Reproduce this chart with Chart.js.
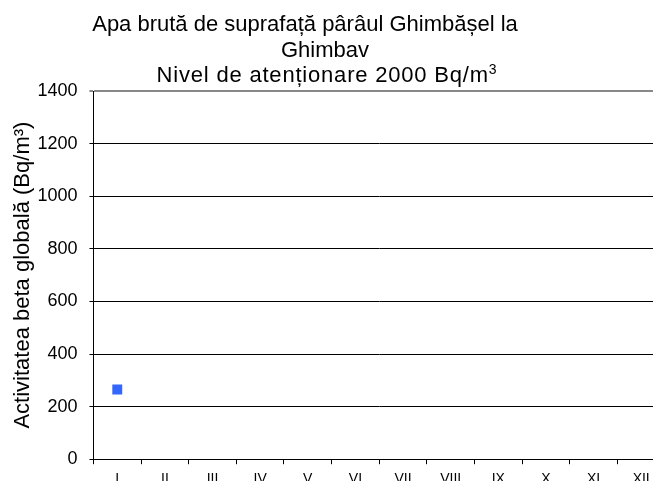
<!DOCTYPE html>
<html>
<head>
<meta charset="utf-8">
<script src="https://cdn.jsdelivr.net/npm/chart.js@4"></script>
<style>
  html, body { margin: 0; padding: 0; background: #fff; overflow: hidden; }
  #wrap { width: 653px; height: 481px; overflow: hidden; position: relative; }
  #box { width: 672px; height: 496px; position: absolute; left: 0; top: 0; }
</style>
</head>
<body>
<div id="wrap"><div id="box"><canvas id="chart"></canvas></div></div>
<script>
// Data
const months = ['I', 'II', 'III', 'IV', 'V', 'VI', 'VII', 'VIII', 'IX', 'X', 'XI', 'XII'];
const betaValues = [265, null, null, null, null, null, null, null, null, null, null, null];
const yTicks = [0, 200, 400, 600, 800, 1000, 1200, 1400];
const titleLines = [
    'Apa brută de suprafață pârâul Ghimbășel la',
    'Ghimbav',
    'Nivel de atenționare 2000 Bq/m'
];
const titleSup = '3';

const fontFamily = '"Liberation Sans", Arial, sans-serif';

// Title drawn on top of the chart, centred on the visible picture
const titlePlugin = {
    id: 'pictureTitle',
    afterDraw(chart) {
        const ctx = chart.ctx;
        const baselines = [31, 56.5, 82];
        ctx.save();
        ctx.fillStyle = '#000';
        ctx.textBaseline = 'alphabetic';
        ctx.font = '22px ' + fontFamily;
        ctx.textAlign = 'center';
        ctx.fillText(titleLines[0], 305, baselines[0]);
        ctx.fillText(titleLines[1], 325, baselines[1]);
        // last line carries a superscript
        ctx.letterSpacing = '0.8px';
        const mainW = ctx.measureText(titleLines[2]).width;
        ctx.font = '14px ' + fontFamily;
        const supW = ctx.measureText(titleSup).width;
        const startX = 327 - (mainW + supW) / 2;
        ctx.textAlign = 'left';
        ctx.font = '22px ' + fontFamily;
        ctx.fillText(titleLines[2], startX, baselines[2]);
        ctx.font = '14px ' + fontFamily;
        ctx.fillText(titleSup, startX + mainW, baselines[2] - 8);
        ctx.restore();
    }
};

const ctx = document.getElementById('chart').getContext('2d');
const betaChart = new Chart(ctx, {
    type: 'line',
    data: {
        labels: months,
        datasets: [{
            label: 'Activitatea beta globală',
            data: betaValues,
            showLine: false,
            pointStyle: 'rect',
            pointRadius: 7,
            pointBorderWidth: 0,
            pointBackgroundColor: '#3366ff',
            pointBorderColor: '#3366ff'
        }]
    },
    options: {
        responsive: true,
        maintainAspectRatio: false,
        animation: false,
        layout: { padding: { top: 91, right: 3, left: 5, bottom: 1 } },
        plugins: {
            legend: { display: false },
            title: { display: false },
            tooltip: { enabled: false }
        },
        scales: {
            x: {
                type: 'category',
                offset: true,
                grid: {
                    offset: true,
                    drawOnChartArea: false,
                    drawTicks: true,
                    tickLength: 5,
                    color: '#000'
                },
                border: { color: '#000', width: 1 },
                ticks: {
                    color: '#000',
                    font: { family: fontFamily, size: 14 },
                    padding: 7,
                    maxRotation: 0,
                    autoSkip: false
                }
            },
            y: {
                min: 0,
                max: 1400,
                afterBuildTicks: (axis) => { axis.ticks = yTicks.map(v => ({ value: v })); },
                grid: {
                    color: (c) => c.tick && c.tick.value === 1400 ? '#888' : '#000',
                    lineWidth: (c) => c.tick && c.tick.value === 1400 ? 2 : 1,
                    drawTicks: true,
                    tickLength: 4
                },
                border: { color: '#000', width: 1 },
                ticks: {
                    color: '#000',
                    font: { family: fontFamily, size: 18 },
                    padding: 12,
                    callback: (v) => String(v)
                },
                title: {
                    display: true,
                    text: 'Activitatea beta globală (Bq/m³)',
                    color: '#000',
                    font: { family: fontFamily, size: 22 },
                    padding: { top: 5, bottom: -11 }
                }
            }
        }
    },
    plugins: [titlePlugin]
});
</script>
</body>
</html>
